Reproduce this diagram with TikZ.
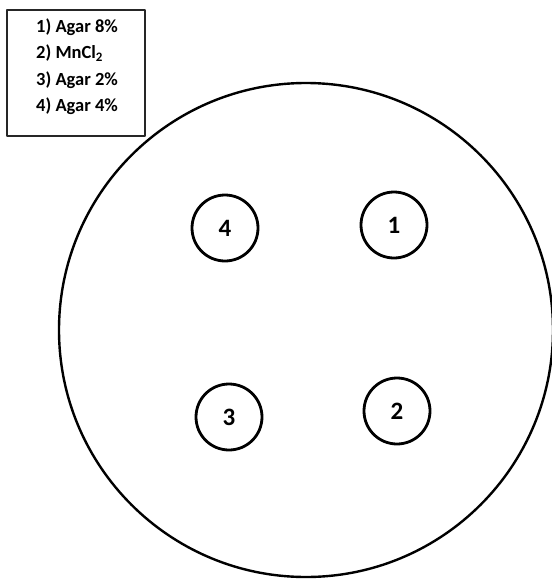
\documentclass[tikz,border=0pt]{standalone}
\usepackage{fontspec}
\setmainfont{Carlito}
\usetikzlibrary{positioning}
\begin{document}
\begin{tikzpicture}[x=1pt,y=-1pt,line cap=round,line join=round]
\useasboundingbox[fill=white] (0,0) rectangle (552,579);
\tikzset{keybox/.style={draw=black!85,line width=1.3pt,inner sep=0pt},keyline/.style={anchor=base west,inner sep=0pt,font=\bfseries\fontsize{18.5}{21}\selectfont},plate/.style={draw=black,circle,line width=2.4pt,minimum size=494pt,inner sep=0pt},well/.style={draw=black,circle,line width=2.8pt,minimum size=66pt,inner sep=0pt,font=\bfseries\fontsize{25}{28}\selectfont}}
\node[keybox,minimum width=138pt,minimum height=126pt] (key) at (76,73) {};
\node[keyline] (k1) at (36,32) {1) Agar 8\%};
\node[keyline] (k2) at (36,58.5) {2) MnCl\textsubscript{2}};
\node[keyline] (k3) at (36,85) {3) Agar 2\%};
\node[keyline] (k4) at (36,111.5) {4) Agar 4\%};
\node[plate] (dish) at (306,330) {};
\node[well] (w1) at (394,225) {1};
\node[well] (w2) at (397,411) {2};
\node[well] (w3) at (229,417) {3};
\node[well] (w4) at (225,228) {4};
\end{tikzpicture}
\end{document}
